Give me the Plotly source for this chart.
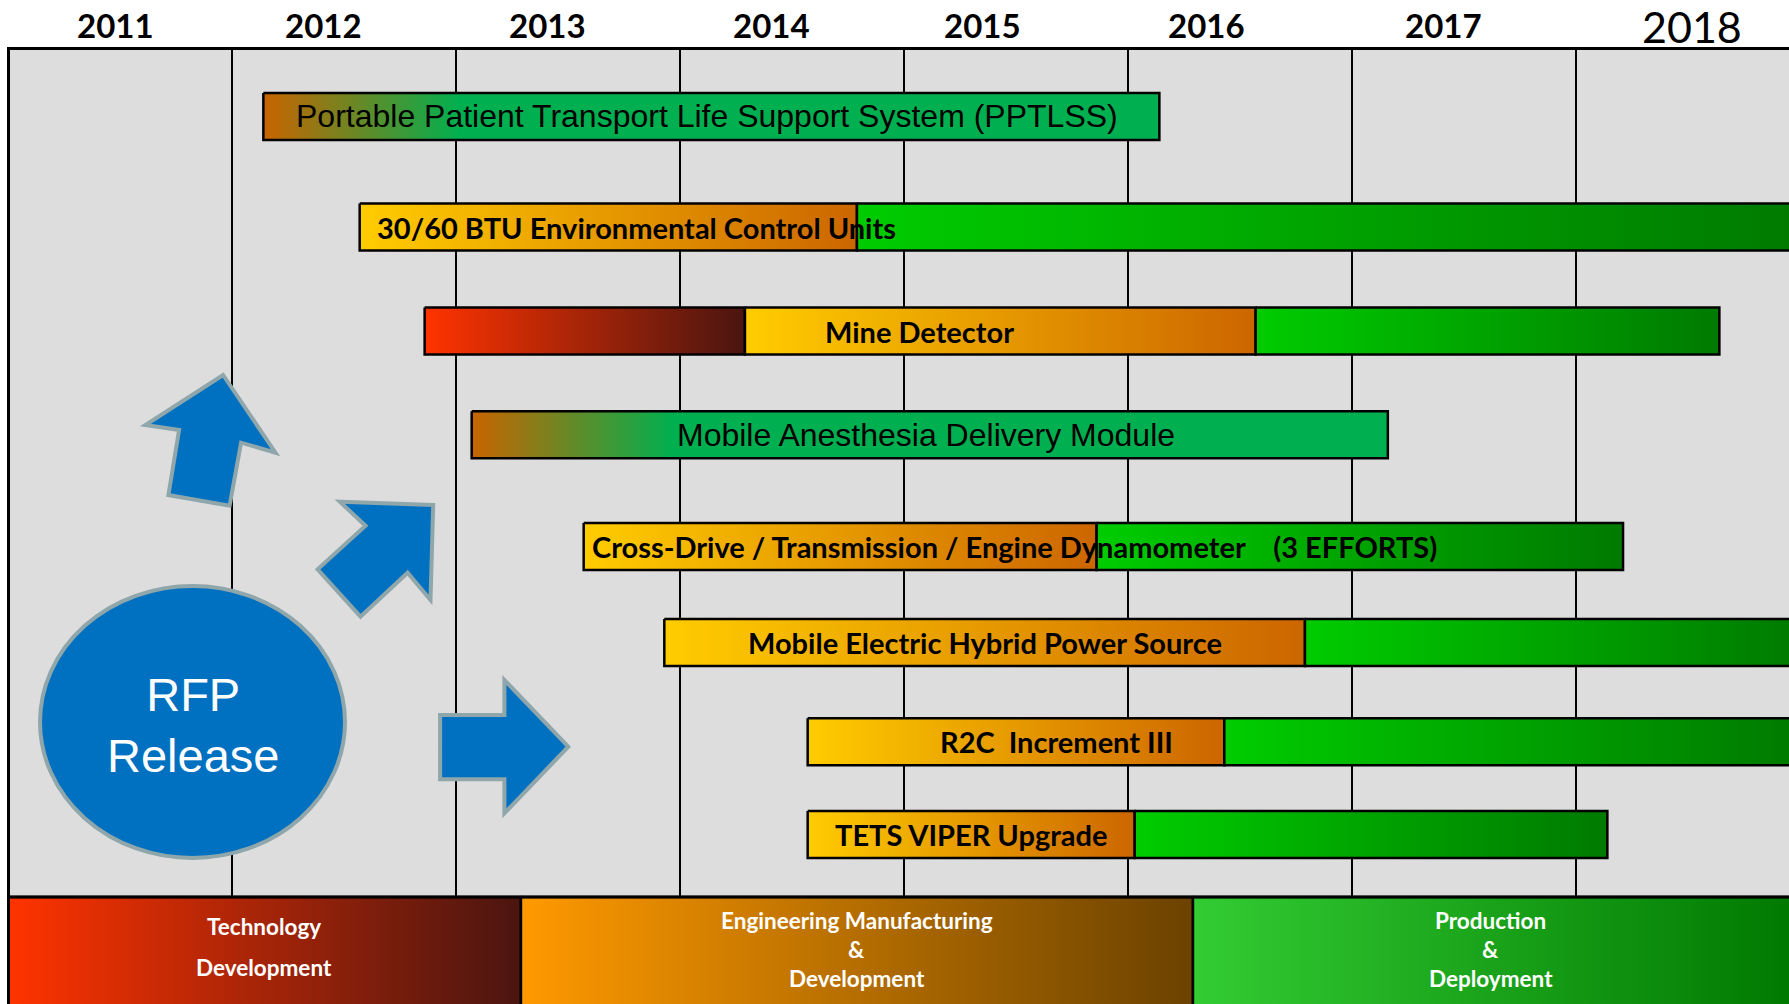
import plotly.graph_objects as go

# ---------------- data ----------------
years = ["2011", "2012", "2013", "2014", "2015", "2016", "2017", "2018"]
year_label_pos = [2011.48, 2012.41, 2013.41, 2014.41, 2015.35, 2016.35, 2017.41, 2018.52]
grid_years = [2012, 2013, 2014, 2015, 2016, 2017, 2018]

tasks = [
    "Portable Patient Transport Life Support System (PPTLSS)",
    "30/60 BTU Environmental Control Units",
    "Mine Detector",
    "Mobile Anesthesia Delivery Module",
    "Cross-Drive / Transmission / Engine Dynamometer\u00a0\u00a0\u00a0\u00a0(3 EFFORTS)",
    "Mobile Electric Hybrid Power Source",
    "R2C\u00a0\u00a0Increment III",
    "TETS VIPER Upgrade",
]
blend_start = [2012.14, None, None, 2013.07, None, None, None, None]
td_start = [None, None, 2012.86, None, None, None, None, None]
emd_start = [None, 2012.57, 2014.29, None, 2013.57, 2013.93, 2014.57, 2014.57]
pd_start = [None, 2014.79, 2016.57, None, 2015.86, 2016.79, 2016.43, 2016.03]
task_end = [2016.14, 2019.0, 2018.64, 2017.16, 2018.21, 2019.0, 2019.0, 2018.14]

phases = ["Technology<br>Development",
          "Engineering Manufacturing<br>&<br>Development",
          "Production<br>&<br>Deployment"]
phase_start = [2011.0, 2013.29, 2016.29]
phase_end = [2013.29, 2016.29, 2019.0]

# ---------------- layout constants ----------------
W, H = 1789, 1004
X0_PX, PX_PER_YEAR, TOP_PX = 8, 224, 48
PLOT_L, PLOT_T = 10, 50


def X(px):
    return 2011 + (px - X0_PX) / PX_PER_YEAR


def Y(py):
    return py - TOP_PX


ROW_Y = [68.4, 179, 283, 386.7, 498.5, 594.4, 693.7, 786.6]
BAR_HALF = 23.5
LABEL_X = [2014.12, 2012.64, 2015.07, 2015.10, 2013.60, 2015.36, 2015.68, 2015.30]
LABEL_ANCHOR = ["center", "left", "center", "center", "left", "center", "center", "center"]
LABEL_STYLE = ["normal", "bold", "bold", "normal", "bold", "bold", "bold", "bold"]

CS_BLEND = [[0, "#C86400"], [0.22, "#00B050"], [1, "#00B050"]]
CS_TD = [[0, "#FF3300"], [1, "#4A1510"]]
CS_EMD = [[0, "#FFCC00"], [1, "#CC6600"]]
CS_PD = [[0, "#00CC00"], [1, "#007A00"]]
CS_BAND = [[[0, "#FF3300"], [1, "#4A1510"]],
           [[0, "#FF9900"], [1, "#6B4200"]],
           [[0, "#33CC33"], [1, "#007800"]]]

BAND_TOP = Y(897)
BAND_BOT = Y(1010)

fig = go.Figure()


def seg(x0, x1, y0, y1, cs, lw=2.5):
    fig.add_trace(go.Scatter(
        x=[x0, x1, x1, x0, x0], y=[y0, y0, y1, y1, y0],
        mode="lines", fill="toself",
        fillgradient=dict(type="horizontal", colorscale=cs, start=x0, stop=x1),
        line=dict(color="black", width=lw),
        hoverinfo="skip", showlegend=False))


# task bars
for i, name in enumerate(tasks):
    yc = ROW_Y[i]
    y0, y1 = yc - BAR_HALF, yc + BAR_HALF
    if blend_start[i] is not None:
        seg(blend_start[i], task_end[i], y0, y1, CS_BLEND)
    else:
        bounds = []
        if td_start[i] is not None:
            bounds.append((td_start[i], CS_TD))
        if emd_start[i] is not None:
            bounds.append((emd_start[i], CS_EMD))
        if pd_start[i] is not None:
            bounds.append((pd_start[i], CS_PD))
        for k, (s, cs) in enumerate(bounds):
            e = bounds[k + 1][0] if k + 1 < len(bounds) else task_end[i]
            seg(s, e, y0, y1, cs)

# phase bands
for j, ph in enumerate(phases):
    seg(phase_start[j], phase_end[j], BAND_TOP, BAND_BOT, CS_BAND[j], lw=2.5)

annotations = []
for i, name in enumerate(tasks):
    if LABEL_STYLE[i] == "bold":
        font = dict(family="Lato", size=29, color="black")
        txt = "<b>" + name + "</b>"
    else:
        font = dict(family="Liberation Sans, Arial", size=32, color="black")
        txt = name
    annotations.append(dict(x=LABEL_X[i], y=ROW_Y[i], xref="x", yref="y", text=txt,
                            showarrow=False, xanchor=LABEL_ANCHOR[i], yanchor="middle",
                            font=font))

# phase labels, line by line
for j, ph in enumerate(phases):
    lines = ph.split("<br>")
    spacing = 41 if len(lines) == 2 else 29
    center = Y(946.5) if len(lines) == 2 else Y(949)
    first = center - spacing * (len(lines) - 1) / 2
    for k, ln in enumerate(lines):
        annotations.append(dict(x=(phase_start[j] + min(phase_end[j], X(W))) / 2,
                                y=first + k * spacing, xref="x", yref="y",
                                text="<b>" + ln + "</b>", showarrow=False,
                                xanchor="center", yanchor="middle",
                                font=dict(family="Lato", size=22.5, color="white")))

# year labels (top)
plot_h = H - PLOT_T
for k, yr in enumerate(years):
    if k < len(years) - 1:
        txt, size, center_px = "<b>" + yr + "</b>", 33, 25
    else:
        txt, size, center_px = yr, 43, 26
    annotations.append(dict(x=year_label_pos[k], y=1 + (PLOT_T - center_px) / plot_h,
                            xref="x", yref="paper", text=txt, showarrow=False,
                            xanchor="center", yanchor="middle",
                            font=dict(family="Lato", size=size, color="black")))

# RFP circle text
annotations.append(dict(x=X(192.5), y=Y(724.5), xref="x", yref="y",
                        text="RFP<br>Release", showarrow=False,
                        font=dict(family="Liberation Sans, Arial", size=47, color="white")))

shapes = []
shapes.append(dict(type="line", xref="x", yref="y", x0=2011, x1=2019.2, y0=BAND_TOP, y1=BAND_TOP,
                   line=dict(color="black", width=3), layer="above"))

# RFP circle
shapes.append(dict(type="circle", xref="x", yref="y",
                   x0=X(40), x1=X(345), y0=Y(586), y1=Y(858),
                   fillcolor="#0070C0", line=dict(color="#8FA6AB", width=4), layer="above"))

arrows_px = [
    [(223.1, 375), (275.5, 452.7), (241.1, 442.7), (229.6, 505.7), (168.4, 495), (179.1, 430), (145.4, 425)],
    [(433.2, 505), (339.8, 501.7), (365.5, 525.7), (317.6, 569.3), (360.5, 616.7), (407.6, 572.7), (430.5, 600)],
    [(440.1, 715), (504.4, 715), (504.4, 680), (568.3, 746.7), (504.4, 813.3), (504.4, 779.3), (440.1, 779.3)],
]
for pts in arrows_px:
    path = "M " + " L ".join(f"{X(px):.4f},{Y(py):.2f}" for px, py in pts) + " Z"
    shapes.append(dict(type="path", xref="x", yref="y", path=path,
                       fillcolor="#0070C0", line=dict(color="#8FA6AB", width=4), layer="above"))

fig.update_layout(
    width=W, height=H,
    margin=dict(l=PLOT_L, r=0, t=PLOT_T, b=0, autoexpand=False),
    paper_bgcolor="white", plot_bgcolor="#DDDDDD",
    showlegend=False, hovermode=False,
    annotations=annotations, shapes=shapes,
    xaxis=dict(range=[X(PLOT_L), X(W)], side="top", showticklabels=False,
               ticks="", showgrid=False, zeroline=False,
               showline=True, linecolor="black", linewidth=3, automargin=False,
               minor=dict(tickmode="array", tickvals=grid_years, showgrid=True,
                          gridcolor="black", gridwidth=1.5, ticks="")),
    yaxis=dict(range=[Y(H), Y(PLOT_T)], showgrid=False, zeroline=False, showticklabels=False,
               showline=True, linecolor="black", linewidth=2.5, automargin=False),
)

fig.write_html("out.html", config={"displayModeBar": False},
               post_script="document.body.style.margin='0';")
